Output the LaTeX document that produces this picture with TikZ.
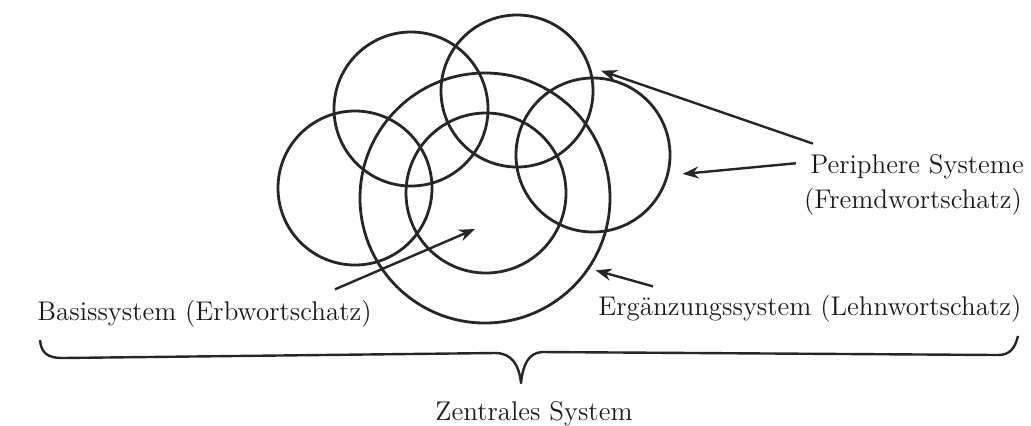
\documentclass[tikz,border=0pt]{standalone}
\usepackage{xcolor}
\usepackage{tikz}
\usetikzlibrary{shapes, arrows.meta, positioning}

\begin{document}
\begin{tikzpicture}[x=0.5pt, y=-0.5pt,
                kreis/.style={draw=black!85, circle, line width=1.4pt, inner sep=0pt},
                txt/.style={inner sep=0pt, text=black!90, font=\fontsize{13.5pt}{16pt}\selectfont},
                pfeil/.style={-{Stealth[length=8pt, width=6pt]}, line width=1.2pt, draw=black!85}]
                \useasboundingbox (0,0) rectangle (1031,425);

                % periphere Systeme
                \node[kreis, minimum size=77pt] (fremdA) at (355,188) {};
                \node[kreis, minimum size=77pt] (fremdB) at (411,109) {};
                \node[kreis, minimum size=76pt] (fremdC) at (517,91) {};
                \node[kreis, minimum size=77pt] (fremdD) at (593,155) {};

                % Ergaenzungssystem und Basissystem
                \node[kreis, minimum size=125pt] (lehn) at (485,198) {};
                \node[kreis, minimum size=80pt] (erb) at (486,193) {};
                \coordinate (erbmitte) at (475,229);

                % Beschriftungen
                \node[txt, anchor=base] (peri) at (917,173) {Periphere Systeme};
                \node[txt, anchor=base] (fremd) at (913,208) {(Fremdwortschatz)};
                \node[txt, anchor=base west] (basis) at (37,320) {Basissystem (Erbwortschatz)};
                \node[txt, anchor=base west] (ergaenz) at (598,315) {Ergänzungssystem (Lehnwortschatz)};
                \node[txt, anchor=base] (zentral) at (534,420) {Zentrales System};

                \draw[pfeil, shorten >=5.5pt] ([shift={(3,-10)}]peri.north west) -- (fremdC.18);
                \draw[pfeil, shorten >=7pt] ([shift={(-14,-3)}]peri.west) -- (fremdD.-15);
                \draw[pfeil, shorten >=3pt] ([shift={(55,-8)}]ergaenz.north west) -- (lehn.-34);
                \draw[pfeil] ([shift={(-37,-10)}]basis.north east) -- (erbmitte);

                % Klammer
                \draw[line width=1.2pt, black!85, line join=round]
                    (40,340) .. controls (41,353) and (48,358) .. (62,358) -- (495,353)
                    .. controls (512,353) and (519,365) .. (521,383)
                    .. controls (523,365) and (528,353) .. (542,352) -- (998,355)
                    .. controls (1010,355) and (1015,348) .. (1018,336);
            \end{tikzpicture}
\end{document}
